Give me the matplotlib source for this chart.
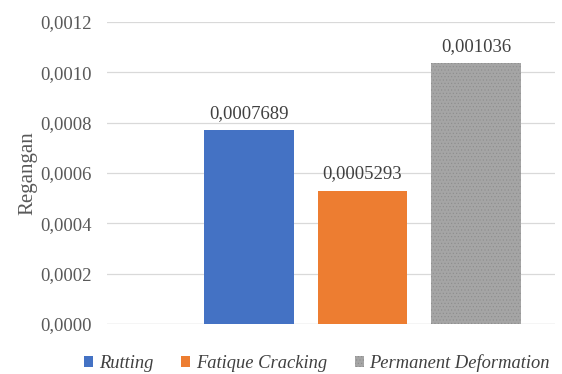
import matplotlib
matplotlib.use('Agg')
import matplotlib.pyplot as plt
from matplotlib.ticker import FuncFormatter

series = ['Rutting', 'Fatique Cracking', 'Permanent Deformation']
values = [0.0007689, 0.0005293, 0.001036]
labels = ['0,0007689', '0,0005293', '0,001036']
colors = ['#4472c4', '#ed7d31', '#a5a5a5']

plt.rcParams['font.family'] = ['Liberation Serif', 'DejaVu Serif']
plt.rcParams['hatch.color'] = '#8c8c8c'
plt.rcParams['hatch.linewidth'] = 0.4

fig = plt.figure(figsize=(5.62, 3.74), dpi=100)
ax = fig.add_axes([107/562, 1-324/374, 448/562, 302/374])

for i, (name, v, c) in enumerate(zip(series, values, colors)):
    ax.bar(i, v, width=0.79, color=c, label=name, zorder=3,
           hatch='.....' if i == 2 else None, linewidth=0)
    ax.text(i, v + 0.00005, labels[i], ha='center', va='baseline',
            fontsize=13.5, color='#404040')

ax.set_xlim(-1.251, 2.696)
ax.set_ylim(0, 0.0012)
ax.set_yticks([i * 0.0002 for i in range(7)])
ax.yaxis.set_major_formatter(FuncFormatter(lambda v, p: ('%.4f' % v).replace('.', ',')))
ax.set_xticks([])
ax.tick_params(axis='y', length=0, labelsize=13.5, labelcolor='#595959', pad=11)
ax.grid(axis='y', color='#d9d9d9', linewidth=0.9, zorder=0)
for s in ax.spines.values():
    s.set_visible(False)
ax.axhline(0, color='#d9d9d9', linewidth=0.9, zorder=1)
ax.set_ylabel('Regangan', fontsize=15, color='#595959', labelpad=2)

leg = fig.legend(loc='center', bbox_to_anchor=(0.564, 1-363/374), ncol=3, frameon=False,
                 prop={'style': 'italic', 'size': 13.3}, handlelength=0.5,
                 handleheight=0.5, handletextpad=0.3, columnspacing=1.5)
for t in leg.get_texts():
    t.set_color('#404040')

fig.savefig('out.png', dpi=100)
